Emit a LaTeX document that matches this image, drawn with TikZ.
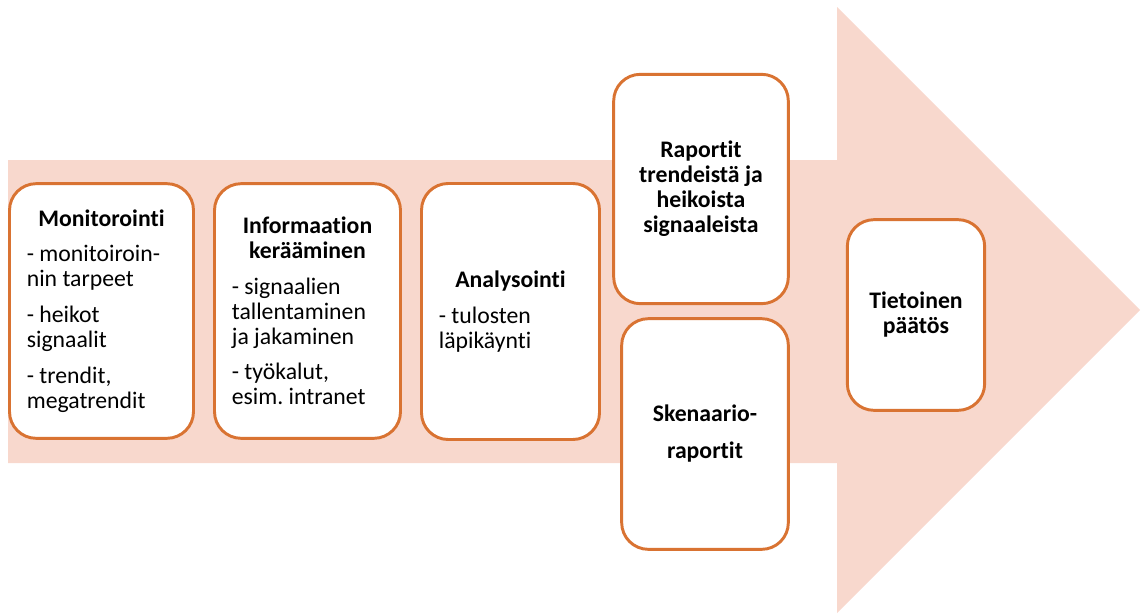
\documentclass[tikz,border=0pt]{standalone}
\usepackage{fontspec}
\setmainfont{Carlito}[Ligatures=NoCommon]
\definecolor{oranssi}{RGB}{217,115,50}
\definecolor{persikka}{RGB}{248,216,205}
\newcommand\otsikko[1]{{\centering\bfseries #1\par}\vspace{8pt}}
\newcommand\vali{\par\vspace{8pt}}
\frenchspacing

\begin{document}
\begin{tikzpicture}[x=0.75pt,y=-0.75pt,
  vaihe/.style={draw=oranssi, line width=2.2pt, fill=white, rounded corners=20pt,
     inner xsep=13pt, inner ysep=0pt, font=\fontsize{17.8}{18.75}\selectfont},
  teksti/.style={vaihe, align=flush left, text width=#1},
  tulos/.style={vaihe, font=\fontsize{17.8}{18.75}\selectfont\bfseries, align=flush center}]

\useasboundingbox (0,0) rectangle (1141,614);

% the big arrow behind the boxes
\fill [persikka] (8,160)--(837,160)--(837,7)--(1140,310)--(837,613)--(837,463)--(8,463)--cycle;

% phases
\node [teksti=112pt, minimum height=191pt] (monitorointi) at (101.5,311)
  {\otsikko{Monitorointi}
   - monitoiroin-\\nin tarpeet\vali
   - heikot\\signaalit\vali
   - trendit,\\megatrendit};

\node [teksti=113.5pt, minimum height=191pt] (keraaminen) at (307.5,311)
  {\otsikko{Informaation\\kerääminen}
   - signaalien\\tallentaminen\\ja jakaminen\vali
   - työkalut,\\esim. intranet};

\node [teksti=107.5pt, minimum height=192pt] (analysointi) at (510.5,311.5)
  {\otsikko{Analysointi}
   - tulosten\\läpikäynti};

% results
\node [tulos, minimum width=131pt, minimum height=172pt] (raportit) at (701,189)
  {Raportit\\trendeistä ja\\heikoista\\signaaleista};

\node [tulos, minimum width=125pt, minimum height=173pt] (skenaario) at (705,434)
  {Skenaario-\\[9pt]raportit};

% decision
\node [tulos, minimum width=103pt, minimum height=143pt] (paatos) at (916,315)
  {Tietoinen\\päätös};

\end{tikzpicture}
\end{document}
